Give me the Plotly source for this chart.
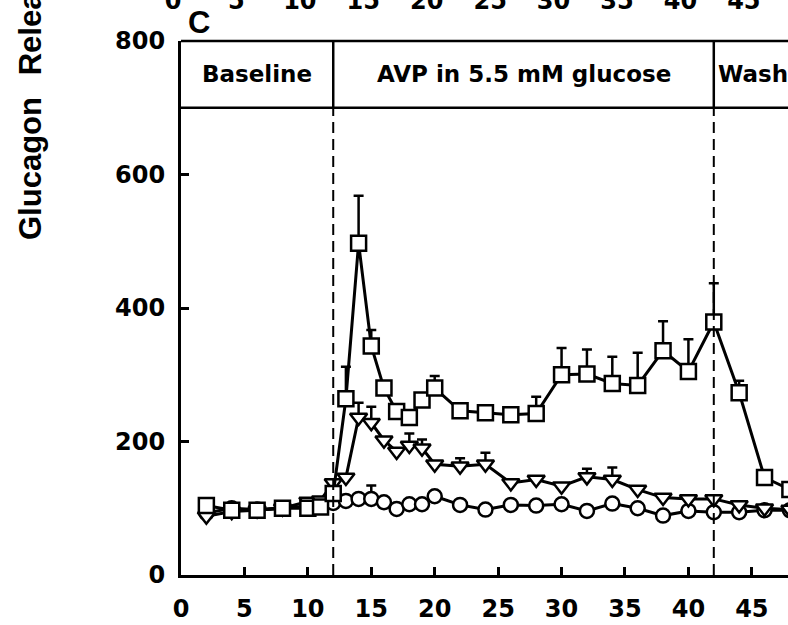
import plotly.graph_objects as go

# ---------------- data ----------------
time_min = [2, 4, 6, 8, 10, 11, 12, 13, 14, 15, 16, 17, 18, 19, 20, 22, 24, 26,
            28, 30, 32, 34, 36, 38, 40, 42, 44, 46, 48]

squares = [104, 97, 97, 100, 100, 102, 122, 264, 497, 343, 280, 245, 236, 262, 280, 246, 243, 240,
           242, 300, 301, 287, 284, 336, 305, 379, 273, 146, 128]
squares_err = [0, 0, 0, 0, 0, 0, 0, 48, 71, 24, 0, 0, 0, 0, 18, 0, 0, 0,
               25, 40, 37, 40, 49, 44, 48, 58, 18, 0, 0]

triangles = [88, 95, 97, 100, 110, 112, 138, 146, 236, 228, 202, 185, 194, 190, 166, 163, 166, 138,
             143, 133, 147, 143, 128, 116, 114, 114, 105, 100, 98]
triangles_err = [0, 0, 0, 0, 0, 0, 0, 0, 22, 24, 0, 0, 18, 13, 0, 12, 17, 0,
                 0, 0, 12, 18, 0, 0, 0, 0, 0, 0, 0]

circles = [93, 100, 98, 100, 103, 106, 108, 111, 114, 114, 109, 99, 106, 106, 118, 105, 98, 105,
           104, 106, 96, 107, 100, 89, 96, 94, 94, 97, 97]
circles_err = [0, 0, 0, 0, 0, 0, 0, 0, 0, 20, 0, 0, 0, 0, 0, 0, 0, 0,
               0, 0, 0, 0, 0, 0, 0, 0, 0, 0, 0]

x_ticks = [0, 5, 10, 15, 20, 25, 30, 35, 40, 45]
y_ticks = [0, 200, 400, 600, 800]

phase_labels = ["Baseline", "AVP in 5.5 mM glucose", "Wash"]
phase_starts = [0, 12, 42]
phase_ends = [12, 42, None]
header_bottom = 700
y_max = 800
x_view_max = 47.85

y_title = "Glucagon\u2002\u2009Release (% of basal)"
panel_label = "C"

# ---------------- layout geometry ----------------
W, H = 788, 625
ML, MR, MT, MB = 181, 0, 41, 50
PW, PH = W - ML - MR, H - MT - MB

tick_font = dict(family="DejaVu Sans", size=24, color="black", weight="bold")

fig = go.Figure()

def add_series(vals, errs, symbol, size):
    fig.add_trace(go.Scatter(
        x=time_min, y=vals, mode="lines+markers",
        line=dict(color="black", width=3),
        marker=dict(symbol=symbol, size=size, color="white",
                    line=dict(color="black", width=2.5)),
        error_y=dict(type="data", symmetric=False, array=errs,
                     arrayminus=[0] * len(errs), color="black",
                     thickness=2.5, width=5),
        showlegend=False, cliponaxis=True,
    ))

add_series(circles, circles_err, "circle", 14)
add_series(triangles, triangles_err, "triangle-down", 15)
add_series(squares, squares_err, "square", 15)

# invisible trace to carry the upper (previous panel) axis
fig.add_trace(go.Scatter(x=x_ticks, y=[None] * len(x_ticks), xaxis="x2",
                         mode="markers", showlegend=False, hoverinfo="skip"))

# phase boundaries: dashed below header, solid inside header
for xs in phase_starts[1:]:
    fig.add_shape(type="line", xref="x", yref="y", x0=xs, x1=xs, y0=0, y1=header_bottom,
                  line=dict(color="black", width=2, dash="11px,6px"))
    fig.add_shape(type="line", xref="x", yref="y", x0=xs, x1=xs, y0=header_bottom, y1=y_max,
                  line=dict(color="black", width=2.5))

# header box horizontal lines
for yv in (header_bottom / y_max, 1.0):
    fig.add_shape(type="line", xref="x domain", yref="y domain", x0=0, x1=1.2, y0=yv, y1=yv,
                  line=dict(color="black", width=2.5))

header_font = dict(family="DejaVu Sans", size=23, color="black", weight="bold")
header_mid = (header_bottom + y_max) / 2
for lab, s, e in zip(phase_labels, phase_starts, phase_ends):
    if e is not None:
        fig.add_annotation(x=(s + e) / 2, y=header_mid, xref="x", yref="y", text=lab,
                           showarrow=False, font=header_font, xanchor="center", yanchor="middle")
    else:
        fig.add_annotation(x=s, y=header_mid, xref="x", yref="y", text=lab, xshift=2,
                           showarrow=False, font=header_font, xanchor="left", yanchor="middle")

# y-axis title (shared across panels, partly cut off)
fig.add_annotation(x=(30 - ML) / PW, y=(H - MB - 242) / PH, xref="paper", yref="paper",
                   text=y_title, textangle=-90, showarrow=False,
                   xanchor="center", yanchor="bottom",
                   font=dict(family="Liberation Sans", size=31, color="black", weight="bold"))

# panel label
fig.add_annotation(x=(199 - ML) / PW, y=(H - MB - 22) / PH, xref="paper", yref="paper",
                   text=panel_label, showarrow=False, xanchor="center", yanchor="middle",
                   font=dict(family="Liberation Sans", size=31, color="black", weight="bold"))

axis_common = dict(showgrid=False, zeroline=False, showline=True, linecolor="black",
                   linewidth=3, ticks="inside", ticklen=8, tickwidth=2.5, tickcolor="black",
                   tickfont=tick_font, automargin=False)

fig.update_layout(
    width=W, height=H,
    margin=dict(l=ML, r=MR, t=MT, b=MB, pad=0, autoexpand=False),
    paper_bgcolor="white", plot_bgcolor="white",
    xaxis=dict(range=[0, x_view_max], tickvals=x_ticks, ticklabelstandoff=10, **axis_common),
    yaxis=dict(range=[0, y_max], tickvals=y_ticks, ticklabelstandoff=8, **axis_common),
    xaxis2=dict(overlaying="x", side="top", anchor="y", range=[0, x_view_max],
                tickvals=x_ticks, showgrid=False, zeroline=False, showline=False, ticks="",
                tickfont=tick_font, ticklabelstandoff=26, ticklabelshift=-8, automargin=False),
)

fig.write_html("out.html", config={"displayModeBar": False},
               post_script="document.body.style.margin='0';")
